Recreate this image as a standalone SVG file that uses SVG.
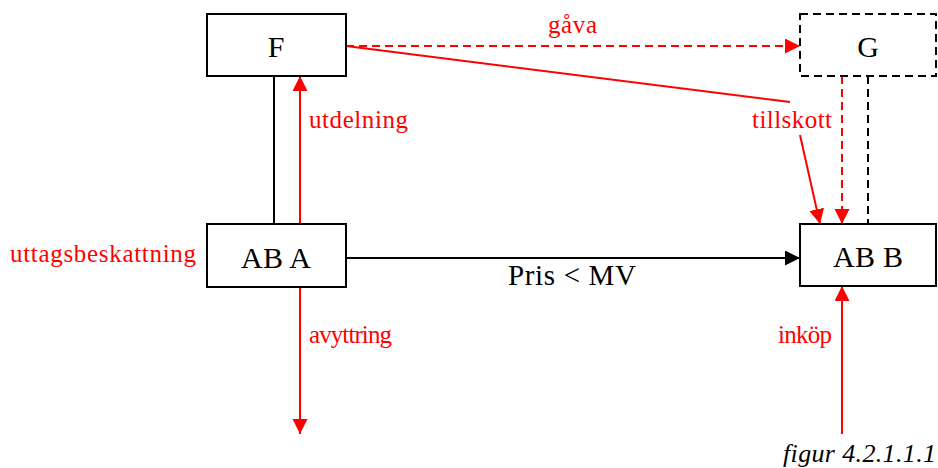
<svg xmlns="http://www.w3.org/2000/svg" width="938" height="468" viewBox="0 0 938 468">
<defs>
<marker id="ar" markerUnits="userSpaceOnUse" markerWidth="16" markerHeight="16" refX="15" refY="7.5" orient="auto"><path d="M0,0 L15,7.5 L0,15 Z" fill="#ff0000"/></marker>
<marker id="ak" markerUnits="userSpaceOnUse" markerWidth="16" markerHeight="16" refX="15" refY="7.5" orient="auto"><path d="M0,0 L15,7.5 L0,15 Z" fill="#000"/></marker>
<style>
.box{fill:#fff;stroke:#000;stroke-width:2}
.dbox{fill:#fff;stroke:#000;stroke-width:2;stroke-dasharray:8,5}
text{font-family:"Liberation Serif","Times New Roman","DejaVu Serif",serif}
.lbl{font-size:30px;fill:#000;text-anchor:middle}
.red{font-size:25px;fill:#ff0000}
.r{stroke:#ff0000;stroke-width:2;fill:none}
.k{stroke:#000;stroke-width:2;fill:none}
.d{stroke-dasharray:8,5}
</style>
</defs>
<g id="connectors">
<line class="k" x1="274" y1="76" x2="274" y2="224"/>
<line class="r" x1="300" y1="224" x2="300" y2="76" marker-end="url(#ar)"/>
<line class="r" x1="300" y1="287" x2="300" y2="434" marker-end="url(#ar)"/>
<line class="k" x1="346" y1="258" x2="800" y2="258" marker-end="url(#ak)"/>
<line class="r d" x1="346" y1="46" x2="800" y2="46" marker-end="url(#ar)"/>
<line class="r" x1="346" y1="46" x2="790" y2="102"/>
<line class="r" x1="800" y1="135" x2="820" y2="224" marker-end="url(#ar)"/>
<line class="r d" x1="842" y1="76" x2="842" y2="224" marker-end="url(#ar)"/>
<line class="k d" x1="868" y1="76" x2="868" y2="224"/>
<line class="r" x1="842" y1="434" x2="842" y2="286" marker-end="url(#ar)"/>
</g>
<g id="F"><rect class="box" x="207" y="14" width="139" height="62"/><text class="lbl" x="276" y="57">F</text></g>
<g id="G"><rect class="dbox" x="800" y="14" width="136" height="62"/><text class="lbl" x="868" y="57">G</text></g>
<g id="ABA"><rect class="box" x="207" y="224" width="139" height="63"/><text class="lbl" x="276" y="268" textLength="70">AB A</text></g>
<g id="ABB"><rect class="box" x="800" y="224" width="136" height="62"/><text class="lbl" x="868" y="267" textLength="70">AB B</text></g>
<g id="labels">
<text class="red" x="548" y="33" textLength="49">gåva</text>
<text class="red" x="752" y="128" textLength="80">tillskott</text>
<text class="red" x="309" y="128" textLength="99">utdelning</text>
<text class="red" x="10" y="262" textLength="186">uttagsbeskattning</text>
<text class="red" x="309" y="343" textLength="83">avyttring</text>
<text class="red" x="778" y="343" textLength="54">inköp</text>
<text x="508" y="285" font-size="29" textLength="128" fill="#000">Pris &lt; MV</text>
<text x="783" y="462" font-size="26" font-style="italic" textLength="153" fill="#000">figur 4.2.1.1.1</text>
</g>
</svg>
